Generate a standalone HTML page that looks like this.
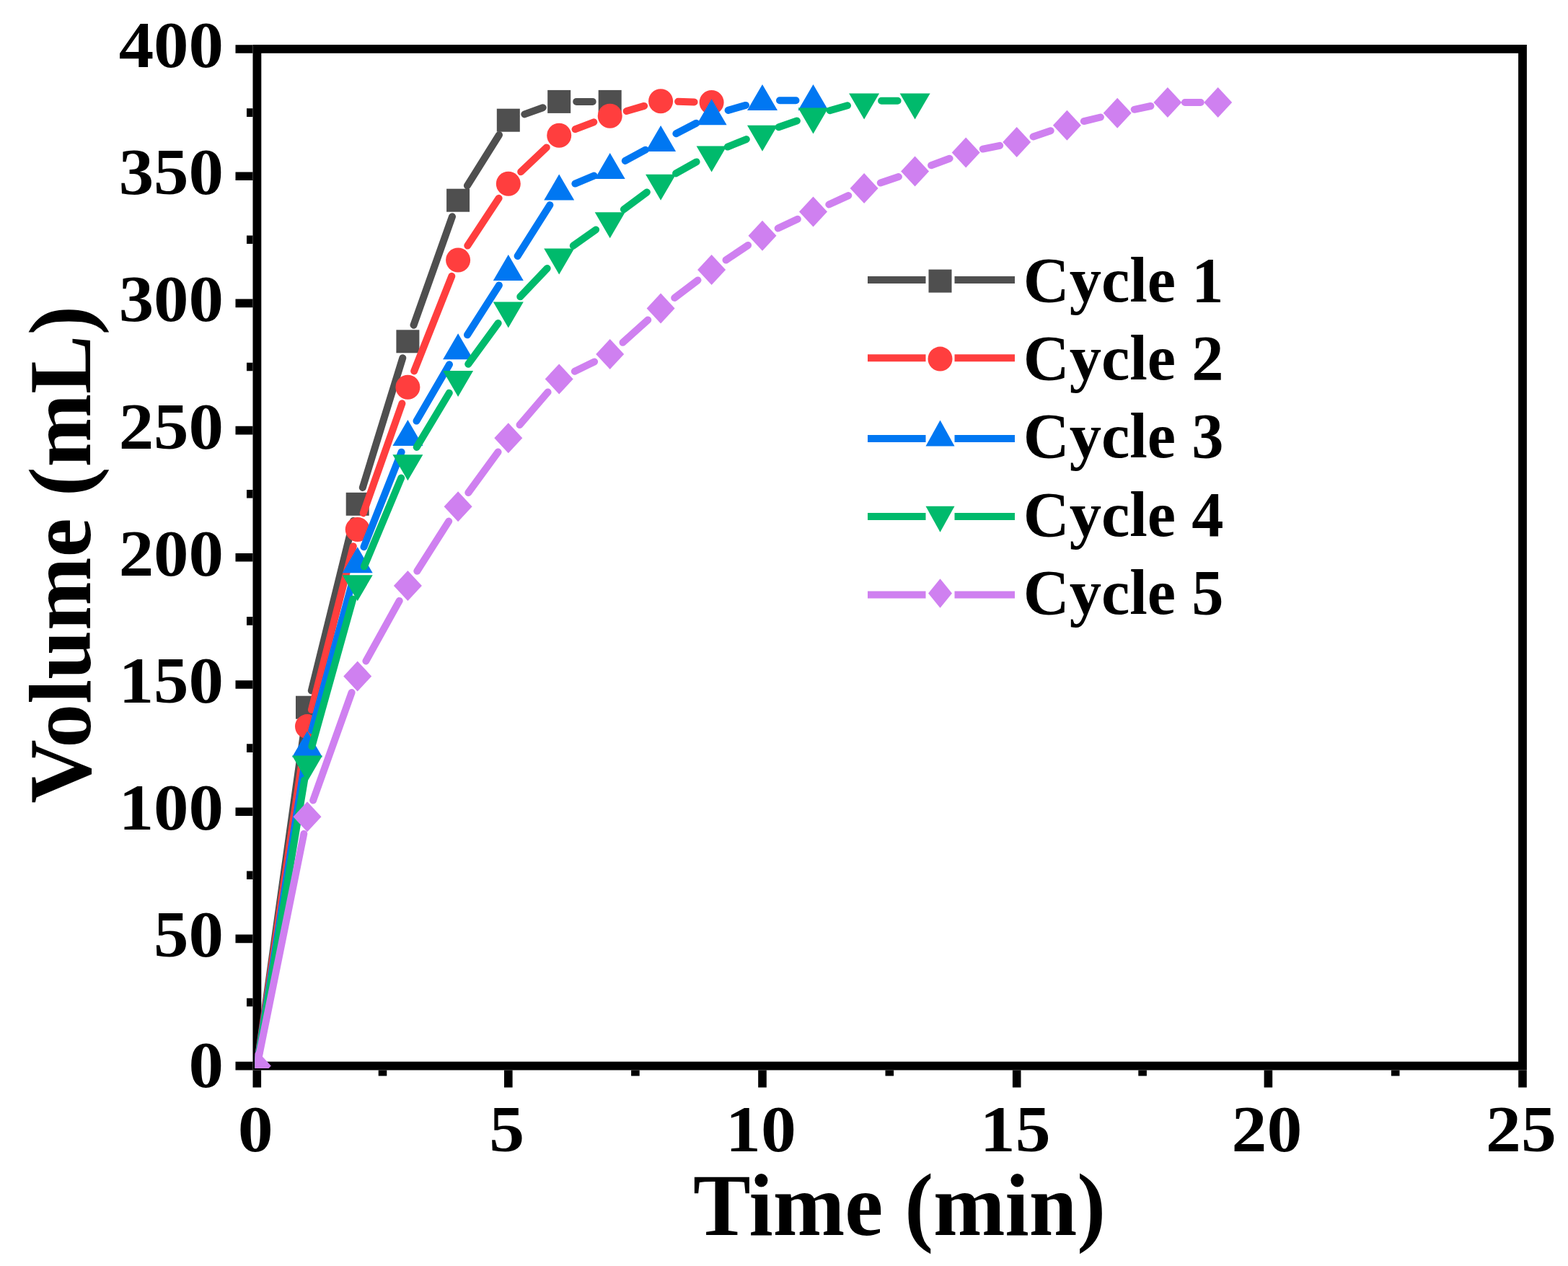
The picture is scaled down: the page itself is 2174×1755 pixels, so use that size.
<!DOCTYPE html>
<html><head><meta charset="utf-8"><title>Volume vs Time</title>
<style>html,body{margin:0;padding:0;background:#fff;}svg{display:block;}</style></head>
<body>
<svg width="2174" height="1755" viewBox="0 0 2174 1755">
<rect width="2174" height="1755" fill="#fff"/>
<rect x="356.4" y="67.9" width="1754.6" height="1409.7" fill="none" stroke="#000" stroke-width="11.8"/>
<path d="M326.5,1477.6H350.5M326.5,1301.4H350.5M326.5,1125.2H350.5M326.5,949.0H350.5M326.5,772.8H350.5M326.5,596.6H350.5M326.5,420.4H350.5M326.5,244.2H350.5M326.5,68.0H350.5M342.0,1389.5H350.5M342.0,1213.3H350.5M342.0,1037.1H350.5M342.0,860.9H350.5M342.0,684.7H350.5M342.0,508.5H350.5M342.0,332.3H350.5M342.0,156.1H350.5M356.3,1483.5V1507.5M704.8,1483.5V1507.5M1057.0,1483.5V1507.5M1409.7,1483.5V1507.5M1758.4,1483.5V1507.5M2111.0,1483.5V1507.5M530.5,1483.5V1491.5M880.9,1483.5V1491.5M1233.3,1483.5V1491.5M1584.1,1483.5V1491.5M1934.7,1483.5V1491.5" stroke="#000" stroke-width="11.6" fill="none"/>
<defs><clipPath id="pa"><rect x="353.5" y="60" width="1760" height="1421"/></clipPath></defs>
<g clip-path="url(#pa)">
<path d="M356.3,1477.6L422.7,1004.5M431.8,957.4L489.9,722.1M502.8,675.9L558.3,496.2M573.5,450.7L627.0,300.3M647.9,257.4L692.0,187.0M727.3,158.4L752.7,149.2M799.2,140.9L821.7,140.9" stroke="#4f4f4f" stroke-width="10" stroke-linecap="round" fill="none"/>
<rect x="410.0" y="964.7" width="32" height="32" fill="#4f4f4f"/>
<rect x="479.7" y="682.8" width="32" height="32" fill="#4f4f4f"/>
<rect x="549.4" y="457.3" width="32" height="32" fill="#4f4f4f"/>
<rect x="619.1" y="261.7" width="32" height="32" fill="#4f4f4f"/>
<rect x="688.8" y="150.7" width="32" height="32" fill="#4f4f4f"/>
<rect x="759.2" y="124.9" width="32" height="32" fill="#4f4f4f"/>
<rect x="829.7" y="124.9" width="32" height="32" fill="#4f4f4f"/>
<path d="M356.3,1477.6L422.5,1030.9M431.9,983.9L489.8,757.3M503.7,711.4L557.4,559.3M574.2,514.4L626.3,382.8M648.3,340.5L691.6,274.8M722.2,238.2L757.8,204.4M797.6,179.2L823.3,169.3M868.7,154.0L893.1,146.9M940.1,140.8L962.6,141.4" stroke="#ff3e3e" stroke-width="10" stroke-linecap="round" fill="none"/>
<circle cx="426.0" cy="1007.1" r="17" fill="#ff3e3e"/>
<circle cx="495.7" cy="734.0" r="17" fill="#ff3e3e"/>
<circle cx="565.4" cy="536.7" r="17" fill="#ff3e3e"/>
<circle cx="635.1" cy="360.5" r="17" fill="#ff3e3e"/>
<circle cx="704.8" cy="254.8" r="17" fill="#ff3e3e"/>
<circle cx="775.2" cy="187.8" r="17" fill="#ff3e3e"/>
<circle cx="845.7" cy="160.7" r="17" fill="#ff3e3e"/>
<circle cx="916.1" cy="140.2" r="17" fill="#ff3e3e"/>
<circle cx="986.6" cy="142.0" r="17" fill="#ff3e3e"/>
<path d="M356.3,1477.6L422.3,1059.4M432.3,1012.5L489.4,803.7M504.5,758.2L556.6,626.7M577.5,583.6L623.0,505.3M648.0,464.3L691.9,395.5M717.6,355.0L762.4,284.2M797.4,254.6L823.6,243.6M866.8,222.9L895.0,207.7M937.4,185.2L965.3,170.7M1009.6,152.9L1034.0,145.9M1081.0,139.2L1103.5,139.2" stroke="#0077f2" stroke-width="10" stroke-linecap="round" fill="none"/>
<polygon points="426.0,1013.4 447.0,1049.4 405.0,1049.4" fill="#0077f2"/>
<polygon points="495.7,758.2 516.7,794.2 474.7,794.2" fill="#0077f2"/>
<polygon points="565.4,582.0 586.4,618.0 544.4,618.0" fill="#0077f2"/>
<polygon points="635.1,462.2 656.1,498.2 614.1,498.2" fill="#0077f2"/>
<polygon points="704.8,353.0 725.8,389.0 683.8,389.0" fill="#0077f2"/>
<polygon points="775.2,241.6 796.2,277.6 754.2,277.6" fill="#0077f2"/>
<polygon points="845.7,212.0 866.7,248.0 824.7,248.0" fill="#0077f2"/>
<polygon points="916.1,174.0 937.1,210.0 895.1,210.0" fill="#0077f2"/>
<polygon points="986.6,137.3 1007.6,173.3 965.6,173.3" fill="#0077f2"/>
<polygon points="1057.0,116.9 1078.0,152.9 1036.0,152.9" fill="#0077f2"/>
<polygon points="1127.5,116.9 1148.5,152.9 1106.5,152.9" fill="#0077f2"/>
<path d="M356.3,1477.6L422.1,1081.4M432.4,1034.6L489.3,830.6M504.9,785.3L556.2,662.6M577.7,619.9L622.8,544.7M649.2,504.8L690.7,448.0M721.3,411.3L758.7,372.0M794.8,340.7L826.1,318.5M864.9,290.3L896.9,266.4M937.1,240.4L965.6,224.4M1008.8,203.6L1034.8,193.1M1079.7,176.3L1104.9,167.6M1150.6,153.2L1175.0,146.3M1222.1,139.7L1244.6,139.7" stroke="#00ba6c" stroke-width="10" stroke-linecap="round" fill="none"/>
<polygon points="426.0,1083.4 447.0,1047.4 405.0,1047.4" fill="#00ba6c"/>
<polygon points="495.7,833.2 516.7,797.2 474.7,797.2" fill="#00ba6c"/>
<polygon points="565.4,666.2 586.4,630.2 544.4,630.2" fill="#00ba6c"/>
<polygon points="635.1,549.9 656.1,513.9 614.1,513.9" fill="#00ba6c"/>
<polygon points="704.8,454.4 725.8,418.4 683.8,418.4" fill="#00ba6c"/>
<polygon points="775.2,380.4 796.2,344.4 754.2,344.4" fill="#00ba6c"/>
<polygon points="845.7,330.3 866.7,294.3 824.7,294.3" fill="#00ba6c"/>
<polygon points="916.1,277.8 937.1,241.8 895.1,241.8" fill="#00ba6c"/>
<polygon points="986.6,238.4 1007.6,202.4 965.6,202.4" fill="#00ba6c"/>
<polygon points="1057.0,209.8 1078.0,173.8 1036.0,173.8" fill="#00ba6c"/>
<polygon points="1127.5,185.5 1148.5,149.5 1106.5,149.5" fill="#00ba6c"/>
<polygon points="1198.1,165.4 1219.1,129.4 1177.1,129.4" fill="#00ba6c"/>
<polygon points="1268.6,165.4 1289.6,129.4 1247.6,129.4" fill="#00ba6c"/>
<path d="M356.3,1477.6L421.3,1155.8M434.1,1109.6L487.6,960.0M507.4,916.4L553.7,832.9M578.3,791.7L622.2,722.6M649.3,683.0L690.6,626.5M720.5,589.0L759.6,543.6M796.8,514.8L824.1,501.4M863.5,474.8L898.3,443.5M935.2,412.9L967.5,388.4M1006.5,360.5L1037.1,340.0M1078.7,316.5L1105.8,303.7M1149.3,283.5L1176.3,271.1M1220.8,253.5L1245.9,245.1M1291.1,229.2L1316.6,219.7M1362.7,206.6L1386.2,201.8M1432.5,189.4L1456.7,181.3M1502.8,168.1L1525.9,162.5M1572.7,151.8L1595.4,147.0M1642.9,142.0L1664.7,142.0" stroke="#cf80f0" stroke-width="10" stroke-linecap="round" fill="none"/>
<polygon points="356.3,1456.6 375.8,1477.6 356.3,1498.6 336.8,1477.6" fill="#cf80f0"/>
<polygon points="426.0,1111.2 445.5,1132.2 426.0,1153.2 406.5,1132.2" fill="#cf80f0"/>
<polygon points="495.7,916.4 515.2,937.4 495.7,958.4 476.2,937.4" fill="#cf80f0"/>
<polygon points="565.4,790.9 584.9,811.9 565.4,832.9 545.9,811.9" fill="#cf80f0"/>
<polygon points="635.1,681.3 654.6,702.3 635.1,723.3 615.6,702.3" fill="#cf80f0"/>
<polygon points="704.8,586.2 724.3,607.2 704.8,628.2 685.3,607.2" fill="#cf80f0"/>
<polygon points="775.2,504.4 794.7,525.4 775.2,546.4 755.7,525.4" fill="#cf80f0"/>
<polygon points="845.7,469.9 865.2,490.9 845.7,511.9 826.2,490.9" fill="#cf80f0"/>
<polygon points="916.1,406.4 935.6,427.4 916.1,448.4 896.6,427.4" fill="#cf80f0"/>
<polygon points="986.6,352.9 1006.1,373.9 986.6,394.9 967.1,373.9" fill="#cf80f0"/>
<polygon points="1057.0,305.7 1076.5,326.7 1057.0,347.7 1037.5,326.7" fill="#cf80f0"/>
<polygon points="1127.5,272.5 1147.0,293.5 1127.5,314.5 1108.0,293.5" fill="#cf80f0"/>
<polygon points="1198.1,240.1 1217.6,261.1 1198.1,282.1 1178.6,261.1" fill="#cf80f0"/>
<polygon points="1268.6,216.5 1288.1,237.5 1268.6,258.5 1249.1,237.5" fill="#cf80f0"/>
<polygon points="1339.2,190.4 1358.7,211.4 1339.2,232.4 1319.7,211.4" fill="#cf80f0"/>
<polygon points="1409.7,176.0 1429.2,197.0 1409.7,218.0 1390.2,197.0" fill="#cf80f0"/>
<polygon points="1479.4,152.7 1498.9,173.7 1479.4,194.7 1459.9,173.7" fill="#cf80f0"/>
<polygon points="1549.2,135.8 1568.7,156.8 1549.2,177.8 1529.7,156.8" fill="#cf80f0"/>
<polygon points="1618.9,121.0 1638.4,142.0 1618.9,163.0 1599.4,142.0" fill="#cf80f0"/>
<polygon points="1688.7,121.0 1708.2,142.0 1688.7,163.0 1669.2,142.0" fill="#cf80f0"/>
</g>
<text transform="translate(310,1507.1) scale(1.065,1)" font-family="Liberation Serif, Times New Roman, serif" font-weight="bold" font-size="91" text-anchor="end">0</text>
<text transform="translate(310,1326.4) scale(1.065,1)" font-family="Liberation Serif, Times New Roman, serif" font-weight="bold" font-size="91" text-anchor="end">50</text>
<text transform="translate(310,1150.2) scale(1.065,1)" font-family="Liberation Serif, Times New Roman, serif" font-weight="bold" font-size="91" text-anchor="end">100</text>
<text transform="translate(310,974.0) scale(1.065,1)" font-family="Liberation Serif, Times New Roman, serif" font-weight="bold" font-size="91" text-anchor="end">150</text>
<text transform="translate(310,797.8) scale(1.065,1)" font-family="Liberation Serif, Times New Roman, serif" font-weight="bold" font-size="91" text-anchor="end">200</text>
<text transform="translate(310,621.6) scale(1.065,1)" font-family="Liberation Serif, Times New Roman, serif" font-weight="bold" font-size="91" text-anchor="end">250</text>
<text transform="translate(310,445.4) scale(1.065,1)" font-family="Liberation Serif, Times New Roman, serif" font-weight="bold" font-size="91" text-anchor="end">300</text>
<text transform="translate(310,269.2) scale(1.065,1)" font-family="Liberation Serif, Times New Roman, serif" font-weight="bold" font-size="91" text-anchor="end">350</text>
<text transform="translate(310,93.0) scale(1.065,1)" font-family="Liberation Serif, Times New Roman, serif" font-weight="bold" font-size="91" text-anchor="end">400</text>
<text transform="translate(354.3,1595.5) scale(1.075,1)" font-family="Liberation Serif, Times New Roman, serif" font-weight="bold" font-size="91" text-anchor="middle">0</text>
<text transform="translate(702.8,1595.5) scale(1.075,1)" font-family="Liberation Serif, Times New Roman, serif" font-weight="bold" font-size="91" text-anchor="middle">5</text>
<text transform="translate(1055.0,1595.5) scale(1.075,1)" font-family="Liberation Serif, Times New Roman, serif" font-weight="bold" font-size="91" text-anchor="middle">10</text>
<text transform="translate(1407.7,1595.5) scale(1.075,1)" font-family="Liberation Serif, Times New Roman, serif" font-weight="bold" font-size="91" text-anchor="middle">15</text>
<text transform="translate(1756.4,1595.5) scale(1.075,1)" font-family="Liberation Serif, Times New Roman, serif" font-weight="bold" font-size="91" text-anchor="middle">20</text>
<text transform="translate(2109.0,1595.5) scale(1.075,1)" font-family="Liberation Serif, Times New Roman, serif" font-weight="bold" font-size="91" text-anchor="middle">25</text>
<text x="961" y="1711.8" font-family="Liberation Serif, Times New Roman, serif" font-weight="bold" font-size="123" textLength="572" lengthAdjust="spacingAndGlyphs">Time (min)</text>
<text transform="translate(125,1113.5) rotate(-90)" x="0" y="0" font-family="Liberation Serif, Times New Roman, serif" font-weight="bold" font-size="123" textLength="689.5" lengthAdjust="spacingAndGlyphs">Volume (mL)</text>
<path d="M1203,388H1283.5M1323.5,388H1407" stroke="#4f4f4f" stroke-width="10" fill="none"/>
<rect x="1287.5" y="373.6" width="32" height="32" fill="#4f4f4f"/>
<text x="1418.8" y="417.5" font-family="Liberation Serif, Times New Roman, serif" font-weight="bold" font-size="88.5">Cycle 1</text>
<path d="M1203,496.2H1283.5M1323.5,496.2H1407" stroke="#ff3e3e" stroke-width="10" fill="none"/>
<circle cx="1303.5" cy="497.6" r="17" fill="#ff3e3e"/>
<text x="1418.8" y="525.5" font-family="Liberation Serif, Times New Roman, serif" font-weight="bold" font-size="88.5">Cycle 2</text>
<path d="M1203,608H1283.5M1323.5,608H1407" stroke="#0077f2" stroke-width="10" fill="none"/>
<polygon points="1303.5,582.5 1323.5,618.5 1283.5,618.5" fill="#0077f2"/>
<text x="1418.8" y="634" font-family="Liberation Serif, Times New Roman, serif" font-weight="bold" font-size="88.5">Cycle 3</text>
<path d="M1203,715.9H1283.5M1323.5,715.9H1407" stroke="#00ba6c" stroke-width="10" fill="none"/>
<polygon points="1303.5,737.7 1323.5,701.7 1283.5,701.7" fill="#00ba6c"/>
<text x="1418.8" y="742.5" font-family="Liberation Serif, Times New Roman, serif" font-weight="bold" font-size="88.5">Cycle 4</text>
<path d="M1203,824.4H1283.5M1323.5,824.4H1407" stroke="#cf80f0" stroke-width="10" fill="none"/>
<polygon points="1303.5,802.3 1320.0,822.5 1303.5,842.7 1287.0,822.5" fill="#cf80f0"/>
<text x="1418.8" y="850.5" font-family="Liberation Serif, Times New Roman, serif" font-weight="bold" font-size="88.5">Cycle 5</text>
</svg>
</body></html>
